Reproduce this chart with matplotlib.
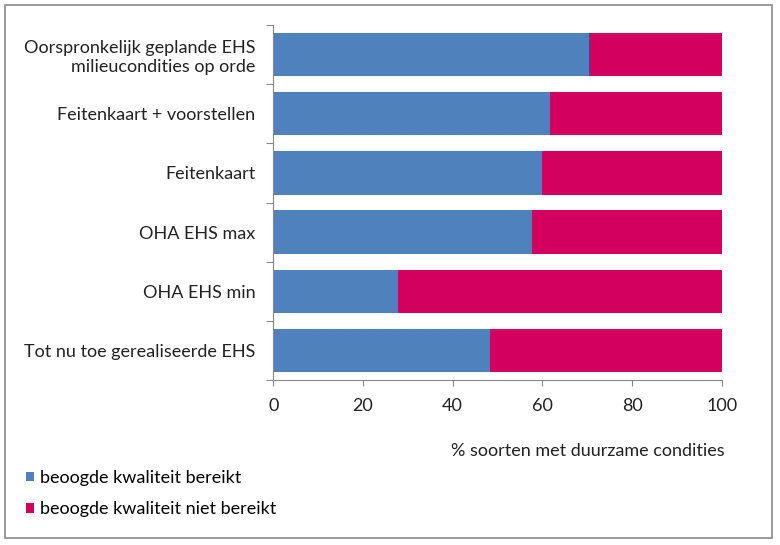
import matplotlib
matplotlib.use("Agg")
import matplotlib.pyplot as plt
from matplotlib.patches import Rectangle

categories = [
    "Oorspronkelijk geplande EHS\nmilieucondities op orde",
    "Feitenkaart + voorstellen",
    "Feitenkaart",
    "OHA EHS max",
    "OHA EHS min",
    "Tot nu toe gerealiseerde EHS",
]
bereikt = [70.4, 61.6, 59.9, 57.6, 27.7, 48.3]
niet_bereikt = [100 - v for v in bereikt]
xticks = [0, 20, 40, 60, 80, 100]
series_names = ["beoogde kwaliteit bereikt", "beoogde kwaliteit niet bereikt"]
xlabel = "% soorten met duurzame condities"

blue = "#4F81BD"
pink = "#D4005F"
FS = 13

plt.rcParams['font.family'] = ['Lato', 'DejaVu Sans']

fig = plt.figure(figsize=(7.8, 5.45), dpi=100)
W, H = 780, 545
ax = fig.add_axes([273.3 / W, 1 - 380 / H, (721.7 - 273.3) / W, (380 - 25) / H])

n = len(categories)
ypos = list(range(n))
ax.barh(ypos, bereikt, height=0.73, color=blue, label=series_names[0])
ax.barh(ypos, niet_bereikt, left=bereikt, height=0.73, color=pink, label=series_names[1])

ax.set_xlim(0, 100)
ax.set_ylim(n - 0.5, -0.5)
ax.set_xticks(xticks)
ax.set_xticklabels([str(t) for t in xticks], fontsize=FS, color="#222222")
ax.set_yticks(ypos)
ax.set_yticklabels(categories, fontsize=FS, color="#222222", linespacing=1.2)
ax.set_yticks([i - 0.5 for i in range(n + 1)], minor=True)
ax.tick_params(axis='y', which='major', length=0, pad=13)
ax.tick_params(axis='y', which='minor', length=5, color="#888888", width=0.8)
ax.tick_params(axis='x', which='major', length=4, color="#888888", width=0.8, pad=9)

for s in ["top", "right"]:
    ax.spines[s].set_visible(False)
for s in ["left", "bottom"]:
    ax.spines[s].set_color("#888888")
    ax.spines[s].set_linewidth(0.8)

fig.text(725 / W, 1 - 451 / H, xlabel, ha="right", va="center", fontsize=FS, color="#222222")

handles, labels = ax.get_legend_handles_labels()
fig.legend(handles, labels, loc="upper left", bbox_to_anchor=(26 / W, 1 - 470 / H),
           frameon=False, fontsize=FS, handlelength=0.45, handleheight=0.45,
           handletextpad=0.35, labelspacing=0.85, borderaxespad=0, borderpad=0)

fig.patches.append(Rectangle((5 / W, 1 - 538 / H), (772 - 5) / W, (538 - 5) / H,
                             transform=fig.transFigure, fill=False,
                             edgecolor="#8a8a8a", linewidth=1.2))

fig.savefig("out.png", dpi=100)
